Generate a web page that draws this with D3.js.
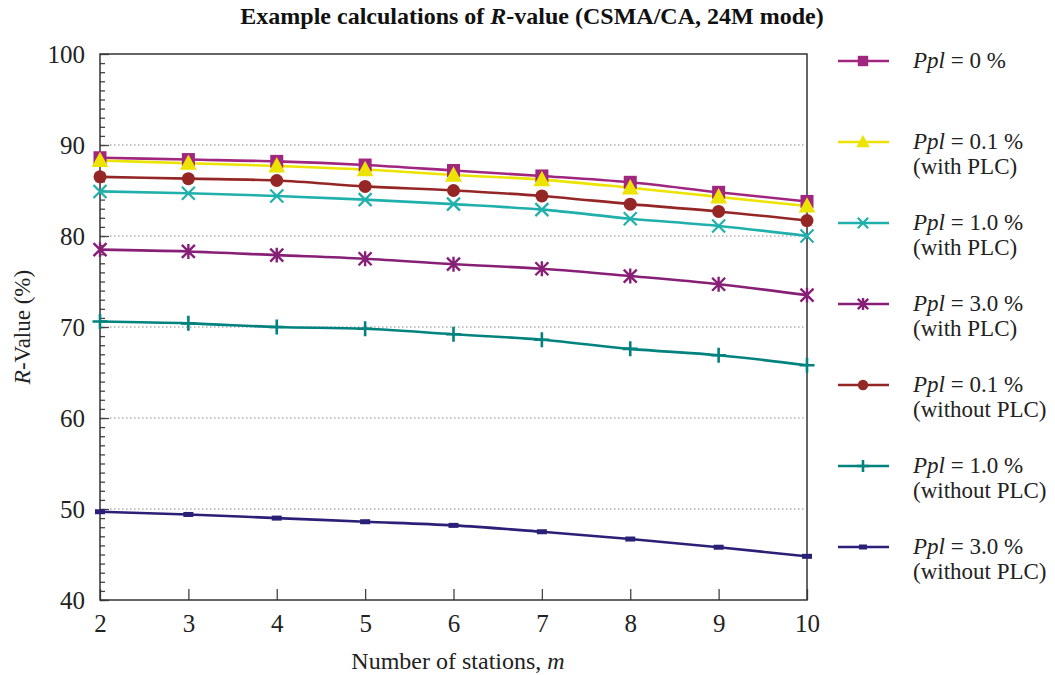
<!DOCTYPE html>
<html>
<head>
<meta charset="utf-8">
<script src="https://cdn.jsdelivr.net/npm/d3@7"></script>
<style>
  html, body { margin: 0; padding: 0; background: #fff; }
  svg { display: block; font-family: "Liberation Serif", "Times New Roman", serif; }
</style>
</head>
<body>
<svg id="chart" width="1055" height="675"></svg>
<script>
// number of stations
const stations = [2, 3, 4, 5, 6, 7, 8, 9, 10];

// R-value (%) per series
const ppl0       = [88.6, 88.4, 88.2, 87.8, 87.2, 86.6, 85.9, 84.8, 83.8];
const ppl01With  = [88.3, 88.0, 87.7, 87.3, 86.7, 86.2, 85.3, 84.3, 83.3];
const ppl10With  = [84.9, 84.7, 84.4, 84.0, 83.5, 82.9, 81.9, 81.1, 80.0];
const ppl30With  = [78.5, 78.3, 77.9, 77.5, 76.9, 76.4, 75.6, 74.7, 73.5];
const ppl01Wo    = [86.5, 86.3, 86.1, 85.45, 85.0, 84.4, 83.5, 82.7, 81.7];
const ppl10Wo    = [70.6, 70.4, 70.0, 69.8, 69.2, 68.6, 67.6, 66.9, 65.8];
const ppl30Wo    = [49.7, 49.4, 49.0, 48.6, 48.2, 47.5, 46.7, 45.8, 44.8];

const yTicks = [40, 50, 60, 70, 80, 90, 100];
const gridTicks = [50, 60, 70, 80, 90];

const series = [
  { pct: "0 %",   note: "",                 values: ppl0,      color: "#a0267f", marker: "square" },
  { pct: "0.1 %", note: "(with PLC)",       values: ppl01With, color: "#ece400", marker: "triangle" },
  { pct: "1.0 %", note: "(with PLC)",       values: ppl10With, color: "#1fb0ac", marker: "x" },
  { pct: "3.0 %", note: "(with PLC)",       values: ppl30With, color: "#871f77", marker: "star" },
  { pct: "0.1 %", note: "(without PLC)",    values: ppl01Wo,   color: "#952626", marker: "circle" },
  { pct: "1.0 %", note: "(without PLC)",    values: ppl10Wo,   color: "#00827e", marker: "plus" },
  { pct: "3.0 %", note: "(without PLC)",    values: ppl30Wo,   color: "#2b2077", marker: "dash" }
];

const svg = d3.select("#chart");
const m = { left: 100, right: 248, top: 54, bottom: 75 };
const W = 1055, H = 675;
const FONT = "Liberation Serif, Times New Roman, serif";

const x = d3.scaleLinear().domain([2, 10]).range([m.left, W - m.right]);
const y = d3.scaleLinear().domain([40, 100]).range([H - m.bottom, m.top]);

// dotted grid
svg.append("g").selectAll("line").data(gridTicks).enter().append("line")
  .attr("x1", x(2) + 10).attr("x2", x(10) - 2)
  .attr("y1", d => y(d)).attr("y2", d => y(d))
  .attr("stroke", "#888").attr("stroke-width", 1.2).attr("stroke-dasharray", "1.5,2.5");

// left axis: major + minor ticks inward
svg.append("g").attr("transform", `translate(${x(2)},0)`)
  .call(d3.axisRight(y).tickValues(d3.range(40, 100, 1)).tickSize(5).tickFormat(""))
  .call(g => g.select(".domain").remove())
  .call(g => g.selectAll("line").attr("stroke", "#444").attr("stroke-width", 1.3));
svg.append("g").attr("transform", `translate(${x(2)},0)`)
  .call(d3.axisRight(y).tickValues(yTicks).tickSize(9).tickFormat(""))
  .call(g => g.select(".domain").remove())
  .call(g => g.selectAll("line").attr("stroke", "#444").attr("stroke-width", 1.3));
svg.append("g").attr("transform", `translate(${x(2)},0)`)
  .call(d3.axisLeft(y).tickValues(yTicks).tickSize(0).tickPadding(15))
  .call(g => g.select(".domain").remove())
  .call(g => g.selectAll("text").attr("font-family", FONT)
    .attr("font-size", 25).attr("fill", "#222"));

// bottom axis, ticks pointing up
svg.append("g").attr("transform", `translate(0,${y(40)})`)
  .call(d3.axisTop(x).tickValues(stations).tickSize(11).tickFormat(""))
  .call(g => g.select(".domain").remove())
  .call(g => g.selectAll("line").attr("stroke", "#444").attr("stroke-width", 1.3));
svg.append("g").attr("transform", `translate(0,${y(40)})`)
  .call(d3.axisBottom(x).tickValues(stations).tickSize(0).tickPadding(14))
  .call(g => g.select(".domain").remove())
  .call(g => g.selectAll("text").attr("font-family", FONT)
    .attr("font-size", 25).attr("fill", "#222"));

// frame
svg.append("rect")
  .attr("x", x(2)).attr("y", y(100))
  .attr("width", x(10) - x(2)).attr("height", y(40) - y(100))
  .attr("fill", "none").attr("stroke", "#333").attr("stroke-width", 1.5);

// marker drawing
function drawMarker(sel, type, color, s) {
  if (type === "square") {
    sel.append("rect").attr("x", -s / 2).attr("y", -s / 2).attr("width", s).attr("height", s).attr("fill", color);
  } else if (type === "triangle") {
    const h = s * 1.05;
    sel.append("path").attr("d", `M0,${-h * 0.6}L${s * 0.6},${h * 0.45}L${-s * 0.6},${h * 0.45}Z`).attr("fill", color);
  } else if (type === "circle") {
    sel.append("circle").attr("r", s / 2).attr("fill", color);
  } else if (type === "x") {
    const r = s / 2;
    sel.append("path").attr("d", `M${-r},${-r}L${r},${r}M${-r},${r}L${r},${-r}`)
      .attr("stroke", color).attr("stroke-width", 2.2).attr("fill", "none");
  } else if (type === "star") {
    const r = s / 2;
    sel.append("path").attr("d", `M${-r},${-r}L${r},${r}M${-r},${r}L${r},${-r}M0,${-r * 1.15}L0,${r * 1.15}`)
      .attr("stroke", color).attr("stroke-width", 2.4).attr("fill", "none");
  } else if (type === "plus") {
    const r = s / 2;
    sel.append("path").attr("d", `M${-r},0L${r},0M0,${-r}L0,${r}`)
      .attr("stroke", color).attr("stroke-width", 2.6).attr("fill", "none");
  } else if (type === "dash") {
    sel.append("rect").attr("x", -s / 2).attr("y", -2.5).attr("width", s).attr("height", 5).attr("fill", color);
  }
}

const markerSize = { square: 13, triangle: 14, circle: 13, x: 13, star: 13, plus: 15, dash: 10 };

const line = d3.line()
  .x((d, i) => x(stations[i]))
  .y(d => y(d))
  .curve(d3.curveMonotoneX);

// lines first, then markers on top
svg.append("g").selectAll("path").data(series).enter().append("path")
  .attr("d", d => line(d.values))
  .attr("fill", "none")
  .attr("stroke", d => d.color)
  .attr("stroke-width", 2.6);

series.forEach(s => {
  s.values.forEach((v, i) => {
    const g = svg.append("g").attr("transform", `translate(${x(stations[i])},${y(v)})`);
    drawMarker(g, s.marker, s.color, markerSize[s.marker]);
  });
});

// title
const title = svg.append("text")
  .attr("x", 532).attr("y", 24)
  .attr("text-anchor", "middle")
  .attr("font-size", 24).attr("font-weight", "bold").attr("fill", "#111");
title.append("tspan").text("Example calculations of ");
title.append("tspan").attr("font-style", "italic").text("R");
title.append("tspan").text("-value (CSMA/CA, 24M mode)");

// axis titles
const xt = svg.append("text")
  .attr("x", 458).attr("y", 669)
  .attr("text-anchor", "middle").attr("font-size", 24).attr("fill", "#222");
xt.append("tspan").text("Number of stations, ");
xt.append("tspan").attr("font-style", "italic").text("m");

const yt = svg.append("text")
  .attr("transform", `translate(30,${(y(40) + y(100)) / 2}) rotate(-90)`)
  .attr("text-anchor", "middle").attr("font-size", 23).attr("fill", "#222");
yt.append("tspan").attr("font-style", "italic").text("R");
yt.append("tspan").text("-Value (%)");

// legend
const legend = svg.append("g").attr("transform", "translate(838,61)");
series.forEach((s, i) => {
  const g = legend.append("g").attr("transform", `translate(0,${i * 81})`);
  g.append("line").attr("x1", 0).attr("x2", 51).attr("y1", 0).attr("y2", 0)
    .attr("stroke", s.color).attr("stroke-width", 2.6);
  const mg = g.append("g").attr("transform", "translate(25,0)");
  drawMarker(mg, s.marker, s.color, markerSize[s.marker] * 0.8);
  const t = g.append("text").attr("x", 75).attr("y", 7).attr("font-size", 23).attr("fill", "#222");
  t.append("tspan").attr("font-style", "italic").text("Ppl");
  t.append("tspan").text(" = " + s.pct);
  if (s.note) {
    g.append("text").attr("x", 75).attr("y", 32).attr("font-size", 23).attr("fill", "#222").text(s.note);
  }
});
</script>
</body>
</html>
